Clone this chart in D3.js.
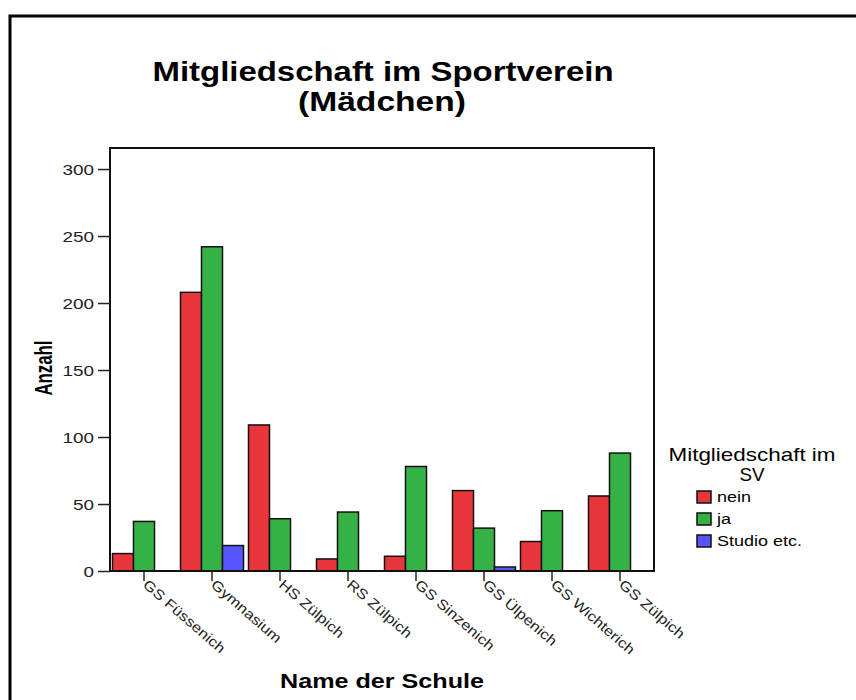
<!DOCTYPE html>
<html>
<head>
<meta charset="utf-8">
<title>Mitgliedschaft im Sportverein</title>
<script src="https://d3js.org/d3.v7.min.js"></script>
<style>
  body { margin: 0; background: #fff; }
  text { font-family: "Liberation Sans", Arial, sans-serif; }
  .tick text { fill: #222; }
  .bar { stroke: #111; stroke-width: 1.5px; }
</style>
</head>
<body>
<script>
// data
var schools = ["GS Füssenich", "Gymnasium", "HS Zülpich", "RS Zülpich",
               "GS Sinzenich", "GS Ülpenich", "GS Wichterich", "GS Zülpich"];
var groups = ["nein", "ja", "Studio etc."];
var nein   = [13, 208, 109, 9, 11, 60, 22, 56];
var ja     = [37, 242, 39, 44, 78, 32, 45, 88];
var studio = [0, 19, 0, 0, 0, 3, 0, 0];
var yTicks = [0, 50, 100, 150, 200, 250, 300];
var colors = ["#e8363b", "#34b246", "#5656fb"];

var W = 856, H = 700;
var margin = {top: 148, left: 110, right: 202, bottom: 129};
var width = W - margin.left - margin.right,
    height = H - margin.top - margin.bottom;

var svg = d3.select("body").append("svg")
    .attr("width", W).attr("height", H);

// outer frame
svg.append("rect")
    .attr("x", 10).attr("y", 16)
    .attr("width", W + 20).attr("height", H + 20)
    .attr("fill", "none").attr("stroke", "#000").attr("stroke-width", 3);

// stretched text helper (the source font is drawn wide)
function label(x, y, str, size, len, bold) {
    return svg.append("text").attr("x", x).attr("y", y)
        .attr("text-anchor", "middle")
        .attr("font-weight", bold ? "bold" : null)
        .attr("font-size", size)
        .attr("textLength", len).attr("lengthAdjust", "spacingAndGlyphs")
        .text(str);
}

// title
label(383, 81, "Mitgliedschaft im Sportverein", 27, 461, true);
label(382, 111, "(Mädchen)", 27, 168, true);

var g = svg.append("g")
    .attr("transform", "translate(" + margin.left + "," + margin.top + ")");

var x0 = d3.scaleBand().domain(schools).range([0, width]);
var x1 = d3.scaleBand().domain(groups).range([0, 63]);
var y = d3.scaleLinear().domain([0, 315.7]).range([height, 0]);

var rows = schools.map(function (s, i) {
    return {school: s, values: [nein[i], ja[i], studio[i]]};
});

// bars
g.selectAll(".grp")
    .data(rows)
    .enter().append("g")
    .attr("transform", function (d) {
        return "translate(" + (x0(d.school) + x0.bandwidth() / 2 - 31.5) + ",0)";
    })
    .selectAll("rect")
    .data(function (d) {
        return d.values.map(function (v, k) { return {key: groups[k], v: v, k: k}; })
            .filter(function (e) { return e.v > 0; });
    })
    .enter().append("rect")
    .attr("class", "bar")
    .attr("x", function (d) { return x1(d.key); })
    .attr("width", x1.bandwidth())
    .attr("y", function (d) { return y(d.v); })
    .attr("height", function (d) { return height - y(d.v); })
    .attr("fill", function (d) { return colors[d.k]; });

// plot box
g.append("rect")
    .attr("width", width).attr("height", height)
    .attr("fill", "none").attr("stroke", "#111").attr("stroke-width", 2);

// y axis
var yAxis = g.append("g")
    .call(d3.axisLeft(y).tickValues(yTicks).tickSize(12).tickPadding(4));
yAxis.select(".domain").remove();
yAxis.selectAll(".tick line").attr("stroke", "#222").attr("stroke-width", 1.5);
yAxis.selectAll(".tick text")
    .style("font-size", "15.5px")
    .attr("x", null).attr("dy", null)
    .attr("transform", "translate(-16,5.5) scale(1.22,1)");

// x axis
var xAxis = g.append("g")
    .attr("transform", "translate(0," + height + ")")
    .call(d3.axisBottom(x0).tickSize(10).tickPadding(0));
xAxis.select(".domain").remove();
xAxis.selectAll(".tick line").attr("stroke", "#222").attr("stroke-width", 1.5);
xAxis.selectAll(".tick text")
    .attr("text-anchor", "start")
    .attr("dy", null)
    .style("font-size", "14px")
    .attr("transform", "translate(-2,15) rotate(41) scale(1.18,1)")
    .attr("x", 0).attr("y", 0);

// axis titles
svg.append("text")
    .attr("transform", "translate(52,368) rotate(-90)")
    .attr("text-anchor", "middle").attr("font-weight", "bold")
    .attr("font-size", 23)
    .attr("textLength", 55).attr("lengthAdjust", "spacingAndGlyphs")
    .text("Anzahl");
label(382, 688, "Name der Schule", 21, 204, true);

// legend
label(752, 461, "Mitgliedschaft im", 18.5, 167, false);
label(752, 481, "SV", 18.5, 25, false);
var lg = svg.append("g");
groups.forEach(function (name, k) {
    lg.append("rect")
        .attr("x", 697).attr("y", 491 + k * 22)
        .attr("width", 14).attr("height", 12)
        .attr("fill", colors[k]).attr("stroke", "#111").attr("stroke-width", 1.5);
    lg.append("text")
        .attr("transform", "translate(717," + (502 + k * 22) + ") scale(1.2,1)")
        .attr("font-size", 15).text(name);
});
</script>
</body>
</html>
